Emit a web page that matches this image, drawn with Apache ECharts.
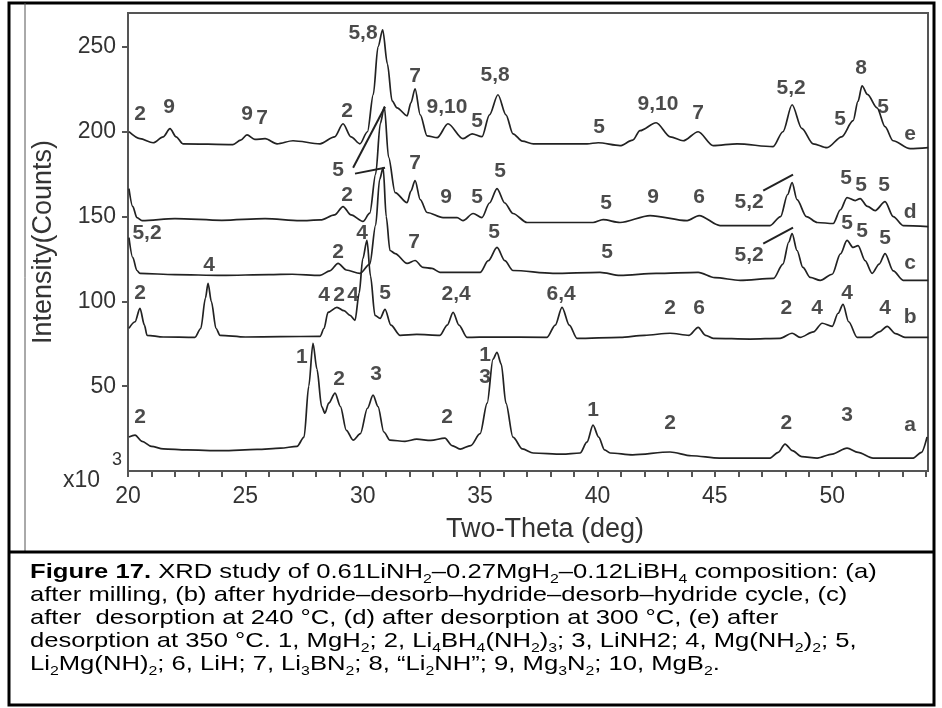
<!DOCTYPE html>
<html>
<head>
<meta charset="utf-8">
<script src="https://cdn.jsdelivr.net/npm/echarts@6/dist/echarts.min.js"></script>
<style>
html, body { margin: 0; padding: 0; background: #fff; }
#main { width: 942px; height: 708px; }
</style>
</head>
<body>
<div id="main"></div>
<script>
// XRD patterns, intensity in x10^3 counts, curves are stacked (offset) as in the figure
var curveA = [[20.04,20],[20.3,21.2],[20.6,17.5],[21.0,14.5],[21.5,13],[22.5,12.4],[24,12],[25.5,12.7],[26.5,13.5],[27.2,14.5],[27.5,20],[27.7,50],[27.88,75.3],[28.05,60],[28.25,38],[28.39,34.1],[28.55,40],[28.82,45.9],[29.05,38],[29.3,24],[29.59,18.2],[29.9,22],[30.2,37],[30.44,44.7],[30.65,38],[30.9,23],[31.16,18.2],[31.8,17.5],[32.3,18.8],[32.9,18],[33.5,19.4],[33.8,15],[34.15,12.9],[34.6,15],[35.0,22],[35.3,40],[35.55,66],[35.72,70],[35.9,63],[36.1,40],[36.4,20],[36.8,13],[37.26,10.6],[38.5,10],[39.26,10.6],[39.55,17],[39.81,27],[40.05,20],[40.3,12.5],[40.54,10.6],[41.5,9.5],[43.09,11.2],[44,9],[45.2,7.6],[47.35,7.6],[47.7,11],[47.99,15.9],[48.3,12],[48.7,8.5],[49.36,7.6],[50.0,10],[50.63,13.5],[51.1,11],[51.74,7.6],[53.45,7.6],[53.8,11],[54.04,20]];
var curveB = [[20.04,84.1],[20.3,88],[20.51,95.9],[20.7,86],[20.81,80],[21.5,79],[22.85,78.8],[23.1,84],[23.3,102],[23.41,110.6],[23.55,100],[23.75,84],[23.92,80],[25,79],[26.5,79.2],[28.18,79.4],[28.35,84],[28.52,93.5],[28.9,96.5],[29.2,94.5],[29.46,91.8],[29.67,88.8],[29.85,105],[30.0,125],[30.18,135.9],[30.33,115],[30.52,91.8],[30.74,90],[30.95,95.3],[31.2,86],[31.59,80],[32.3,80.5],[33.29,80],[33.6,86],[33.85,93.5],[34.1,86],[34.44,78.8],[35.5,79],[37.85,78.8],[38.2,86],[38.49,96.5],[38.8,86],[39.13,78.2],[40.96,78.8],[42,80],[43.09,81.2],[43.9,80],[44.29,84.7],[44.6,80],[44.93,78.2],[46.5,77.8],[47.78,78.2],[48.29,81.2],[48.63,78.8],[49.2,82],[49.57,87.1],[50.0,85.3],[50.25,93],[50.46,98.2],[50.7,88],[51.06,78.8],[51.62,78.8],[52.0,82],[52.34,85.3],[52.7,81],[53.1,78.8],[54.09,78.8]];
var curveC = [[20.04,137.6],[20.2,126],[20.38,118.2],[20.51,116.5],[22,115.8],[24,115.3],[26,115.8],[27,116],[28.18,115.3],[28.6,118],[28.95,122.4],[29.3,118.5],[29.88,116.5],[30.3,122],[30.55,145],[30.72,172],[30.87,178.8],[31.0,150],[31.16,130],[31.38,128.2],[31.89,122.4],[32.23,124.1],[32.57,120],[32.95,119.4],[33.29,117.1],[35,117.1],[35.35,124],[35.72,131.8],[36.05,124],[36.4,118.2],[38.1,116.5],[40.11,117.1],[40.96,115.3],[42.5,116.5],[44.29,117.1],[45,114],[46.08,112.4],[47.5,113.5],[47.9,122],[48.15,135],[48.29,140],[48.5,130],[48.75,120],[49.06,114.1],[49.49,112.4],[50.0,116],[50.35,128],[50.63,135.9],[50.89,131.8],[51.1,132.9],[51.4,124],[51.7,116.5],[52.0,122],[52.25,128.2],[52.6,118],[53.02,112.4],[54.09,112.4]];
var curveD = [[20.04,166.5],[20.2,156],[20.38,149.4],[20.6,147.6],[22,148.8],[24,147.8],[25.84,148.8],[27.33,147.6],[28.2,148],[28.8,151],[29.16,155.9],[29.5,151],[30.01,147.1],[30.3,152],[30.55,175],[30.75,205],[30.92,214.7],[31.1,185],[31.38,164.1],[31.89,158.2],[32.05,165],[32.23,171.2],[32.45,160],[32.74,152.4],[33.42,149.4],[34.02,149.4],[34.27,147.6],[34.7,151.8],[35.08,149.4],[35.4,158],[35.72,166.5],[36.05,158],[36.4,151.8],[37,146.5],[39.81,146.5],[40.24,148.2],[40.96,146.5],[42.24,150.6],[43.82,147.6],[44.33,150.6],[45.22,144.7],[47.35,144.7],[47.8,150],[48.1,163],[48.29,170],[48.5,160],[48.9,150],[49.36,146.5],[50.04,145.9],[50.35,154],[50.63,161.2],[50.98,159.4],[51.19,160.6],[51.5,156],[51.83,153.5],[52.25,158.8],[52.6,150],[53.02,144.7],[54.09,144.1]];
var curveE = [[20.04,200],[20.51,195.9],[21.07,193.5],[21.5,197],[21.79,201.8],[22.05,197],[22.34,192.9],[24.47,192.4],[24.8,195],[25.07,198.2],[25.4,195.5],[25.84,195.9],[26.35,192.9],[27.03,194.7],[28.18,192.9],[28.8,197],[29.16,204.7],[29.5,197],[29.88,192.9],[30.2,200],[30.45,222],[30.65,250],[30.85,260],[31.05,240],[31.25,218.2],[31.46,214.1],[31.89,209.4],[32.05,217],[32.23,225.3],[32.45,210],[32.74,197.6],[33.17,196.5],[33.63,204.7],[34.27,195.9],[34.66,198.8],[35.08,197.1],[35.4,210],[35.76,221.8],[36.1,210],[36.4,198.8],[36.8,194.5],[37.26,192.9],[39.56,192.9],[40.03,193.5],[40.96,191.8],[41.5,195],[41.81,200.6],[42.5,205.3],[43.1,197],[43.65,194.7],[44.29,200],[44.93,191.8],[45.95,192.9],[47.48,191.2],[47.9,200],[48.29,215.9],[48.7,202],[49.19,192.9],[49.78,190.6],[50.4,197],[50.89,206.5],[51.1,218],[51.27,227.1],[51.5,222],[51.91,214.1],[52.25,203],[52.59,194.7],[53.32,190],[54.09,190.6]];

// phase labels: [two-theta, intensity, text]
var peakLabels = [
    [20.51,210.6,'2'],[21.75,214.7,'9'],[25.07,210.6,'9'],[25.71,208.2,'7'],[30.01,258.2,'5,8'],[32.23,232.9,'7'],
    [33.59,214.7,'9,10'],[34.87,206.5,'5'],[35.64,233.5,'5,8'],[29.33,212.4,'2'],[40.07,202.4,'5'],
    [42.58,216.5,'9,10'],[44.29,211.2,'7'],[48.25,225.9,'5,2'],[51.23,237.6,'8'],[50.34,207.1,'5'],[52.17,214.7,'5'],
    [28.95,177.1,'5'],[29.33,162.4,'2'],[32.23,181.2,'7'],[33.55,161.2,'9'],[34.87,161.2,'5'],[35.85,176.5,'5'],[40.37,157.6,'5'],
    [42.37,161.2,'9'],[44.33,161.2,'6'],[46.46,158.2,'5,2'],[50.59,172.4,'5'],[51.23,168.2,'5'],[52.21,168.2,'5'],
    [20.81,140,'5,2'],[28.95,128.8,'2'],[29.97,140,'4'],[32.19,134.7,'7'],[35.6,140.6,'5'],[40.41,128.8,'5'],
    [46.46,127.1,'5,2'],[50.63,145.9,'5'],[51.27,141.5,'5'],[52.25,137,'5'],
    [20.51,104.7,'2'],[23.45,121.2,'4'],[28.35,103.5,'4'],[28.99,103.5,'2'],[29.59,103.5,'4'],[30.95,104.7,'5'],
    [33.98,104.1,'2,4'],[38.45,104.1,'6,4'],[43.09,95.9,'2'],[44.33,95.9,'6'],[48.04,95.9,'2'],[49.36,95.9,'4'],
    [50.63,104.7,'4'],[52.25,95.9,'4'],
    [20.51,31.8,'2'],[27.41,67.1,'1'],[28.99,54.1,'2'],[30.57,57.1,'3'],[33.59,31.8,'2'],[35.21,68.2,'1'],[35.21,55.3,'3'],
    [39.81,35.9,'1'],[43.09,28.2,'2'],[48.04,28.2,'2'],[50.63,32.9,'3']
];
var curveNames = [[53.32,198.8,'e'],[53.32,152.4,'d'],[53.32,122.4,'c'],[53.32,90.6,'b'],[53.32,27.1,'a']];
// leader lines from labels to peaks
var pointers = [
    [[29.59,178.8],[30.95,214.7]],
    [[29.67,175.3],[30.95,178.8]],
    [[47.06,165.3],[48.33,174.7]],
    [[47.06,134.1],[48.33,143.5]]
];
var xTicks = [];
for (var t = 20; t <= 54; t++) xTicks.push(t);
var xTickLabels = [20, 25, 30, 35, 40, 45, 50];
var yTickLabels = [50, 100, 150, 200, 250];

var captionLines = [
    '{b|Figure 17.} XRD study of 0.61LiNH{s|2}–0.27MgH{s|2}–0.12LiBH{s|4} composition: (a)',
    'after milling, (b) after hydride–desorb–hydride–desorb–hydride cycle, (c)',
    'after  desorption at 240 °C, (d) after desorption at 300 °C, (e) after',
    'desorption at 350 °C. 1, MgH{s|2}; 2, Li{s|4}BH{s|4}(NH{s|2}){s|3}; 3, LiNH2; 4, Mg(NH{s|2}){s|2}; 5,',
    'Li{s|2}Mg(NH){s|2}; 6, LiH; 7, Li{s|3}BN{s|2}; 8, “Li{s|2}NH”; 9, Mg{s|3}N{s|2}; 10, MgB{s|2}.'
];
var captionY = [559, 582, 605, 628, 651];

var FONT = 'Liberation Sans, Arial, sans-serif';
var chartDom = document.getElementById('main');
var myChart = echarts.init(chartDom);

function curve(data) {
    return {
        type: 'line',
        data: data,
        symbol: 'none',
        smooth: 0.3,
        smoothMonotone: 'x',
        silent: true,
        lineStyle: { color: '#222', width: 1.7 }
    };
}
function labelSeries(list) {
    return {
        type: 'scatter',
        symbolSize: 1,
        silent: true,
        itemStyle: { color: 'rgba(0,0,0,0)' },
        data: list.map(function (p) { return { value: [p[0], p[1]], name: p[2] }; }),
        label: {
            show: true,
            position: 'inside',
            formatter: '{b}',
            color: '#1e1e1e',
            fontFamily: FONT,
            fontWeight: 'bold',
            fontSize: 21
        },
        z: 5
    };
}

var graphics = [
    { type: 'rect', shape: { x: 9, y: 3, width: 925, height: 702 }, style: { fill: 'none', stroke: '#000', lineWidth: 3 } },
    { type: 'line', shape: { x1: 25, y1: 3, x2: 25, y2: 552 }, style: { stroke: '#555', lineWidth: 1 } },
    { type: 'line', shape: { x1: 9, y1: 552, x2: 934, y2: 552 }, style: { stroke: '#000', lineWidth: 3 } },
    { type: 'text', x: 63, y: 469, style: { text: 'x10', font: '23px ' + FONT, fill: '#333' } },
    { type: 'text', x: 112, y: 451, style: { text: '3', font: '18px ' + FONT, fill: '#333' } }
];
captionLines.forEach(function (line, i) {
    graphics.push({
        type: 'text',
        x: 30,
        y: captionY[i],
        scaleX: 1.22,
        style: {
            text: line,
            font: '21px ' + FONT,
            fill: '#000',
            lineHeight: 27,
            verticalAlign: 'top',
            rich: {
                b: { fontSize: 21, fontWeight: 'bold', fontFamily: FONT, lineHeight: 27 },
                s: { fontSize: 13, fontFamily: FONT, lineHeight: 13, padding: [14, 0, 0, 0] }
            }
        }
    });
});

var option = {
    animation: false,
    backgroundColor: '#fff',
    grid: {
        left: 128, right: 14, top: 13, bottom: 237,
        show: true, borderColor: '#555', borderWidth: 2
    },
    xAxis: {
        type: 'value', min: 20, max: 54.08,
        name: 'Two-Theta (deg)', nameLocation: 'middle', nameGap: 45,
        nameTextStyle: { fontSize: 27, fontFamily: FONT, color: '#333', padding: [0, 0, 0, 34] },
        axisLine: { lineStyle: { color: '#555', width: 2 } },
        axisTick: { customValues: xTicks, length: 6, lineStyle: { color: '#555', width: 2 } },
        axisLabel: { customValues: xTickLabels, fontSize: 23, fontFamily: FONT, color: '#333', margin: 14 },
        splitLine: { show: false }
    },
    yAxis: {
        type: 'value', min: 0, max: 270,
        name: 'Intensity(Counts)', nameLocation: 'middle', nameGap: 71,
        nameTextStyle: { fontSize: 27, fontFamily: FONT, color: '#333' },
        axisLine: { show: true, lineStyle: { color: '#555', width: 2 } },
        axisTick: { show: true, customValues: yTickLabels, length: 6, lineStyle: { color: '#555', width: 2 } },
        axisLabel: { customValues: yTickLabels, fontSize: 23, fontFamily: FONT, color: '#333', margin: 12 },
        splitLine: { show: false }
    },
    series: [
        curve(curveA), curve(curveB), curve(curveC), curve(curveD), curve(curveE),
        {
            type: 'lines',
            coordinateSystem: 'cartesian2d',
            silent: true,
            lineStyle: { color: '#222', width: 2, opacity: 1 },
            data: pointers.map(function (p) { return { coords: p }; })
        },
        labelSeries(peakLabels),
        labelSeries(curveNames)
    ],
    graphic: graphics
};
myChart.setOption(option);
</script>
</body>
</html>
